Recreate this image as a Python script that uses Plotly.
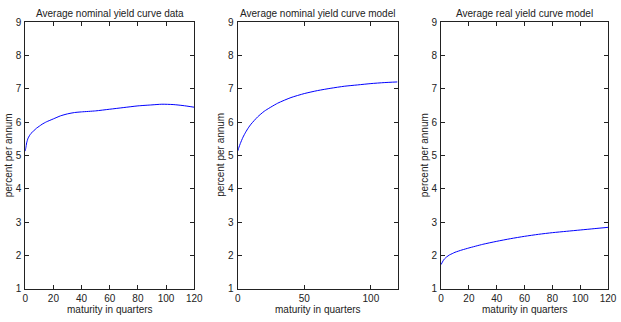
import plotly.graph_objects as go

# ---- data ----
mat_data = [0, 1, 2, 4, 6, 8, 10, 12, 15, 20, 25, 30, 35, 40, 50, 60, 70, 80, 90, 97, 105, 112, 120]
yield_data = [5.13, 5.38, 5.52, 5.66, 5.74, 5.82, 5.88, 5.94, 6.01, 6.10, 6.19, 6.25, 6.29, 6.31, 6.34, 6.39, 6.44, 6.49, 6.52, 6.54, 6.53, 6.50, 6.45]

mat_nom = [0, 1, 2, 4, 6, 8, 10, 15, 20, 30, 40, 50, 60, 70, 80, 90, 100, 110, 120]
yield_nom = [5.13, 5.25, 5.36, 5.55, 5.70, 5.83, 5.94, 6.16, 6.33, 6.57, 6.74, 6.86, 6.95, 7.02, 7.08, 7.12, 7.16, 7.19, 7.21]

mat_real = [0, 1, 2, 4, 6, 8, 10, 15, 20, 30, 40, 50, 60, 70, 80, 90, 100, 110, 120]
yield_real = [1.72, 1.80, 1.87, 1.95, 2.01, 2.05, 2.09, 2.16, 2.22, 2.33, 2.42, 2.50, 2.57, 2.63, 2.68, 2.72, 2.76, 2.80, 2.84]

titles = ["Average nominal yield curve data", "Average nominal yield curve model", "Average real yield curve model"]
xticks_list = [[0, 20, 40, 60, 80, 100, 120], [0, 50, 100], [0, 20, 40, 60, 80, 100, 120]]
yticks = [1, 2, 3, 4, 5, 6, 7, 8, 9]
xlabel = "maturity in quarters"
ylabel = "percent per annum"

W, H = 621, 322
domains_px = [(22.7, 195.0), (239.3, 402.3), (446.7, 617.0)]
top_px, bot_px = 17.0, 293.5

FONT = "Liberation Sans, Arial, sans-serif"
FS = 10
fig = go.Figure()
series = [(mat_data, yield_data), (mat_nom, yield_nom), (mat_real, yield_real)]
for i, ((xs, ys), (l, r)) in enumerate(zip(series, domains_px)):
    sfx = "" if i == 0 else str(i + 1)
    fig.add_trace(go.Scatter(x=xs, y=ys, mode="lines", line=dict(color="#0000ff", width=1, shape="spline", smoothing=0.6),
                             xaxis="x" + sfx, yaxis="y" + sfx, showlegend=False, hoverinfo="skip"))
    common = dict(showline=True, linecolor="#222", linewidth=1, mirror="ticks", ticks="inside", ticklen=4,
                  tickcolor="#222", showgrid=False, zeroline=False,
                  tickfont=dict(family=FONT, size=FS, color="#222"))
    fig.update_layout(**{
        "xaxis" + sfx: dict(domain=[l / W, r / W], range=[0, 120], tickvals=xticks_list[i],
                            anchor="y" + sfx, ticklabelstandoff=0, **common),
        "yaxis" + sfx: dict(domain=[1 - bot_px / H, 1 - top_px / H], range=[1, 9], tickvals=yticks,
                            anchor="x" + sfx, ticklabelstandoff=1, **common),
    })
    cx = (l + r) / 2 / W
    fig.add_annotation(text=titles[i], x=cx, y=1 - 7.5 / H, xref="paper", yref="paper", showarrow=False,
                       font=dict(family=FONT, size=FS, color="#222"), xanchor="center", yanchor="middle")
    fig.add_annotation(text=xlabel, x=cx, y=1 - 315.5 / H, xref="paper", yref="paper", showarrow=False,
                       font=dict(family=FONT, size=FS, color="#222"), xanchor="center", yanchor="middle")
    fig.add_annotation(text=ylabel, x=(l - 17.5) / W, y=1 - 155 / H, xref="paper", yref="paper", showarrow=False,
                       textangle=-90, font=dict(family=FONT, size=FS, color="#222"),
                       xanchor="center", yanchor="middle")

fig.update_layout(width=W, height=H, margin=dict(l=0, r=0, t=0, b=0),
                  paper_bgcolor="white", plot_bgcolor="white")
fig.write_html("out.html")
